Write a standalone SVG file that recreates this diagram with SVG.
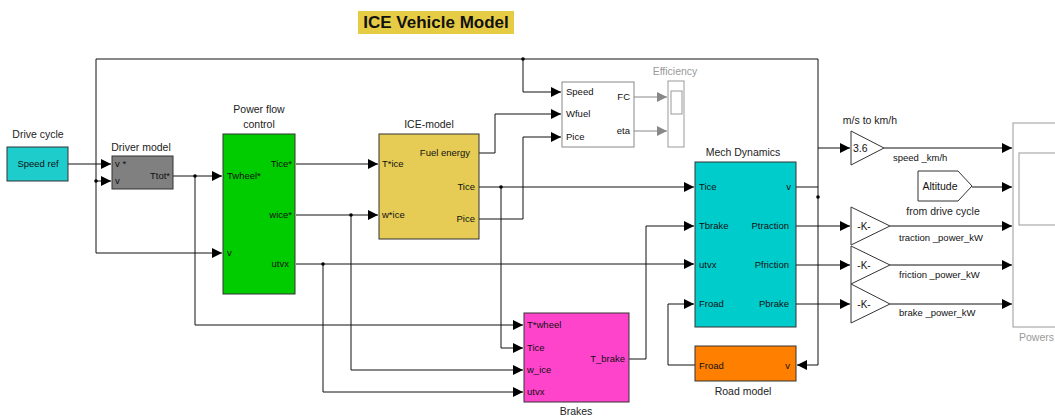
<svg xmlns="http://www.w3.org/2000/svg" width="1055" height="417" viewBox="0 0 1055 417">
<defs>
<marker id="ar" markerUnits="userSpaceOnUse" markerWidth="10" markerHeight="10" refX="10" refY="5" orient="auto"><path d="M0,0 L10,5 L0,10 z" fill="#000"/></marker>
<marker id="ag" markerUnits="userSpaceOnUse" markerWidth="10" markerHeight="10" refX="10" refY="5" orient="auto"><path d="M0,0 L10,5 L0,10 z" fill="#888"/></marker>
</defs>
<style>
.blk{stroke:#333;stroke-width:1}
.w{fill:none;stroke:#111;stroke-width:1;marker-end:url(#ar)}
.n{fill:none;stroke:#111;stroke-width:1}
.g{fill:none;stroke:#888;stroke-width:1;marker-end:url(#ag)}
.gb{fill:#fff;stroke:#999;stroke-width:1}
text{font-family:"Liberation Sans",Arial,sans-serif;fill:#111}
.p{font-size:9.5px}
.lbl{font-size:10.5px;fill:#222}
.gl{font-size:10.5px;fill:#999}
.r{text-anchor:end}
.c{text-anchor:middle}
</style>
<rect width="1055" height="417" fill="#fff"/>
<g id="title">
<rect x="358" y="11" width="156" height="23" fill="#E6CC44"/>
<text x="436" y="28" class="c" font-size="17" font-weight="bold">ICE Vehicle Model</text>
</g>
<g id="connectors">
<path class="n" d="M796,187 H818"/>
<path class="w" d="M818,59 V365 H797"/>
<path class="w" d="M818,59 H96 V253 H222"/>
<path class="w" d="M96,181 H111"/>
<path class="w" d="M523,59 V92 H561"/>
<path class="w" d="M818,148 H850"/>
<path class="w" d="M68,164 H111"/>
<path class="w" d="M173,176 H222"/>
<path class="w" d="M195,176 V325 H523"/>
<path class="w" d="M296,164 H378"/>
<path class="w" d="M296,215 H378"/>
<path class="w" d="M351,215 V370 H523"/>
<path class="w" d="M296,264 H694"/>
<path class="w" d="M323,264 V392 H523"/>
<path class="w" d="M479,153 H495 V114 H561"/>
<path class="w" d="M479,187 H694"/>
<path class="w" d="M501,187 V348 H523"/>
<path class="w" d="M479,219 H523 V137 H561"/>
<path class="w" d="M629,359 H646 V226 H694"/>
<path class="w" d="M695,365 H668 V304 H694"/>
<path class="w" d="M796,226 H850"/>
<path class="w" d="M796,265 H850"/>
<path class="w" d="M796,304 H850"/>
<path class="w" d="M884,148 H1012"/>
<path class="w" d="M972,187 H1012"/>
<path class="w" d="M890,226 H1012"/>
<path class="w" d="M890,265 H1012"/>
<path class="w" d="M890,304 H1012"/>
<path class="g" d="M634,97 H667"/>
<path class="g" d="M634,131 H667"/>
<g fill="#000">
<circle cx="96" cy="181" r="1.8"/>
<circle cx="195" cy="176" r="1.8"/>
<circle cx="351" cy="215" r="1.8"/>
<circle cx="323" cy="264" r="1.8"/>
<circle cx="501" cy="187" r="1.8"/>
<circle cx="523" cy="59" r="1.8"/>
<circle cx="818" cy="197" r="1.8"/>
</g>
</g>
<g id="drive_cycle">
<rect class="blk" x="7" y="147" width="61" height="34" fill="#1FCCCC"/>
<text x="38" y="167" class="p c">Speed ref</text>
<text x="38" y="138" class="lbl c">Drive cycle</text>
</g>
<g id="driver_model">
<rect class="blk" x="112" y="156" width="61" height="33" fill="#808080"/>
<text x="115" y="167" class="p">v *</text>
<text x="115" y="184" class="p">v</text>
<text x="170" y="179" class="p r">Ttot*</text>
<text x="141" y="151" class="lbl c">Driver model</text>
</g>
<g id="power_flow_control">
<rect class="blk" x="223" y="134" width="72" height="160" fill="#00CC00"/>
<text x="227" y="179" class="p">Twheel*</text>
<text x="227" y="256" class="p">v</text>
<text x="292" y="167" class="p r">Tice*</text>
<text x="292" y="218" class="p r">wice*</text>
<text x="289" y="267" class="p r">utvx</text>
<text x="259" y="113" class="lbl c">Power flow</text>
<text x="259" y="128" class="lbl c">control</text>
</g>
<g id="ice_model">
<rect class="blk" x="379" y="134" width="100" height="105" fill="#E6CC55"/>
<text x="382" y="167" class="p">T*ice</text>
<text x="382" y="218" class="p">w*ice</text>
<text x="470" y="156" class="p r">Fuel energy</text>
<text x="475" y="190" class="p r">Tice</text>
<text x="475" y="222" class="p r">Pice</text>
<text x="429" y="128" class="lbl c">ICE-model</text>
</g>
<g id="fuel_calc">
<rect x="562" y="82" width="72" height="65" fill="#fff" stroke="#888"/>
<text x="566" y="95" class="p">Speed</text>
<text x="566" y="117" class="p">Wfuel</text>
<text x="566" y="140" class="p">Pice</text>
<text x="630" y="100" class="p r">FC</text>
<text x="630" y="134" class="p r">eta</text>
</g>
<g id="efficiency">
<rect class="gb" x="668" y="81" width="16" height="66"/>
<rect class="gb" x="671" y="91" width="11" height="23"/>
<text x="675" y="75" class="gl c">Efficiency</text>
</g>
<g id="mech_dynamics">
<rect class="blk" x="695" y="162" width="101" height="165" fill="#00CCCC"/>
<text x="699" y="190" class="p">Tice</text>
<text x="699" y="229" class="p">Tbrake</text>
<text x="699" y="268" class="p">utvx</text>
<text x="699" y="307" class="p">Froad</text>
<text x="791" y="190" class="p r">v</text>
<text x="789" y="229" class="p r">Ptraction</text>
<text x="789" y="268" class="p r">Pfriction</text>
<text x="789" y="307" class="p r">Pbrake</text>
<text x="743" y="156" class="lbl c">Mech Dynamics</text>
</g>
<g id="brakes">
<rect class="blk" x="524" y="313" width="105" height="89" fill="#FF44CC"/>
<text x="527" y="328" class="p">T*wheel</text>
<text x="527" y="351" class="p">Tice</text>
<text x="527" y="373" class="p">w_ice</text>
<text x="527" y="395" class="p">utvx</text>
<text x="625" y="362" class="p r">T_brake</text>
<text x="576" y="415" class="lbl c">Brakes</text>
</g>
<g id="road_model">
<rect class="blk" x="695" y="346" width="101" height="35" fill="#FF8000"/>
<text x="699" y="369" class="p">Froad</text>
<text x="790" y="369" class="p r">v</text>
<text x="743" y="395" class="lbl c">Road model</text>
</g>
<g id="gain_speed">
<path d="M851,131 L884,148 L851,165 z" fill="#fff" stroke="#333"/>
<text x="853" y="152" font-size="10.5">3.6</text>
<text x="870" y="124" class="lbl c">m/s to km/h</text>
<text x="893" y="161" class="p">speed _km/h</text>
</g>
<g id="altitude">
<path d="M918,171 H958 L972,186 L958,201 H918 z" fill="#fff" stroke="#333"/>
<text x="940" y="190" class="c" font-size="10.5">Altitude</text>
<text x="943" y="215" class="lbl c">from drive cycle</text>
</g>
<g id="gain_traction">
<path d="M851,207 L890,226 L851,245 z" fill="#fff" stroke="#333"/>
<text x="864" y="230" class="c" font-size="10">-K-</text>
<text x="899" y="241" class="p">traction _power_kW</text>
</g>
<g id="gain_friction">
<path d="M851,246 L890,265 L851,284 z" fill="#fff" stroke="#333"/>
<text x="864" y="269" class="c" font-size="10">-K-</text>
<text x="899" y="278" class="p">friction _power_kW</text>
</g>
<g id="gain_brake">
<path d="M851,284 L890,304 L851,323 z" fill="#fff" stroke="#333"/>
<text x="864" y="308" class="c" font-size="10">-K-</text>
<text x="899" y="316" class="p">brake _power_kW</text>
</g>
<g id="powers">
<rect class="gb" x="1013" y="123" width="60" height="204"/>
<rect class="gb" x="1019" y="153" width="50" height="72"/>
<text x="1019" y="341" class="gl">Powers</text>
</g>
</svg>
